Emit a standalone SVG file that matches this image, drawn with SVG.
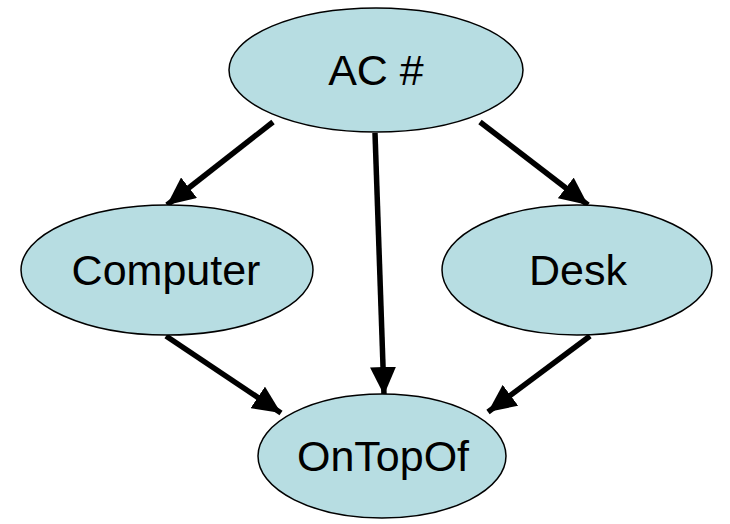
<svg xmlns="http://www.w3.org/2000/svg" width="730" height="524" viewBox="0 0 730 524">
<style>
.node ellipse{fill:#b7dde2;stroke:#000;stroke-width:1.5}
.node text{font-family:"Liberation Sans",Arial,sans-serif;font-size:43px;fill:#000;text-anchor:middle;dominant-baseline:central}
.edge{stroke:#000;stroke-width:5.5;fill:none;marker-end:url(#arr)}
</style>
<defs>
<marker id="arr" markerUnits="userSpaceOnUse" markerWidth="30" markerHeight="26" refX="28" refY="13" orient="auto">
<path d="M0,0 L28,13 L0,26 Z" fill="#000"/>
</marker>
</defs>
<rect width="730" height="524" fill="#fff"/>
<g id="connectors">
<line class="edge" x1="273" y1="122" x2="167" y2="205"/>
<line class="edge" x1="375" y1="133" x2="384" y2="395"/>
<line class="edge" x1="480" y1="122" x2="588" y2="205"/>
<line class="edge" x1="166" y1="336" x2="281" y2="413"/>
<line class="edge" x1="590" y1="336" x2="488" y2="412"/>
</g>
<g id="ac" class="node"><ellipse cx="376" cy="70" rx="147" ry="62"/><text x="376" y="70">AC #</text></g>
<g id="computer" class="node"><ellipse cx="167" cy="270" rx="146" ry="65"/><text x="166" y="270">Computer</text></g>
<g id="desk" class="node"><ellipse cx="577" cy="270" rx="135" ry="65"/><text x="578" y="270">Desk</text></g>
<g id="ontopof" class="node"><ellipse cx="382" cy="456" rx="124" ry="62"/><text x="383" y="456">OnTopOf</text></g>
</svg>
